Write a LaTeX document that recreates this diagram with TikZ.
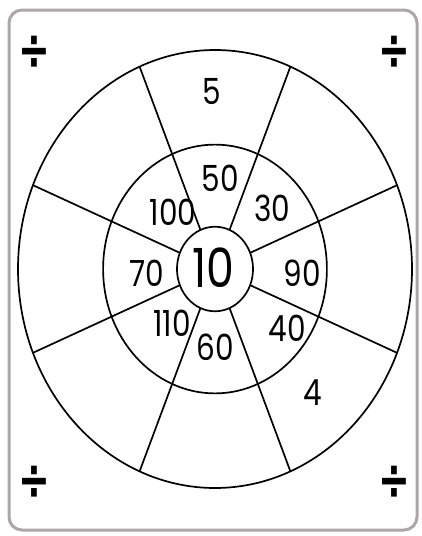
\documentclass[tikz,border=0pt]{standalone}
\usepackage{fontspec}
\setmainfont{Poppins}
\newfontfamily\numfont[FakeStretch=0.82]{Poppins}
\newfontfamily\signfont{DejaVu Sans}
\usetikzlibrary{positioning}

\definecolor{framegray}{HTML}{ADA6A6}

\begin{document}
\begin{tikzpicture}[x=1pt,y=-1pt,
  frame/.style={draw=framegray, line width=3pt, rounded corners=13pt},
  ring/.style={draw=black, line width=1.7pt},
  num/.style={font=\numfont\fontsize{36}{36}\selectfont, inner sep=0pt},
  big/.style={font=\numfont\fontsize{54}{54}\selectfont, inner sep=0pt},
  sign/.style={font=\signfont\bfseries\fontsize{38}{38}\selectfont, inner sep=0pt},
]
\useasboundingbox (0,0) rectangle (422,536);
\draw[frame] (9,10) rectangle (417,530);

% Rings and spokes
\begin{scope}[shift={(215,269)}, xscale=197, yscale=-219]
  \draw[ring] (0,0) circle (1);
  \draw[ring] (0,0) circle (0.568);
  \draw[ring] (0,0) circle (0.193);
  \foreach \a in {22.5,67.5,...,337.5}
    \draw[ring] (\a:0.193) -- (\a:1);
\end{scope}

% Numbers
\node[big] (ctr) at (213,268) {10};
\node[num] (top) at (212,92) {5};
\node[num] (bot) at (313,393) {4};
\node[num] (n50) at (220,178) {50};
\node[num] (n30) at (272,208) {30};
\node[num] (n100) at (173,212) {100};
\node[num] (n70) at (147,273) {70};
\node[num] (n90) at (302,273) {90};
\node[num] (n110) at (172,323) {110};
\node[num] (n60) at (215,347) {60};
\node[num] (n40) at (287,328) {40};

% Corner signs
\foreach \x/\y/\nm in {34/53/tl, 394/53/tr, 34/483/bl, 394/483/br}
  \node[sign] (d\nm) at (\x,\y) {\scalebox{1}[1.5]{÷}};
\end{tikzpicture}
\end{document}
